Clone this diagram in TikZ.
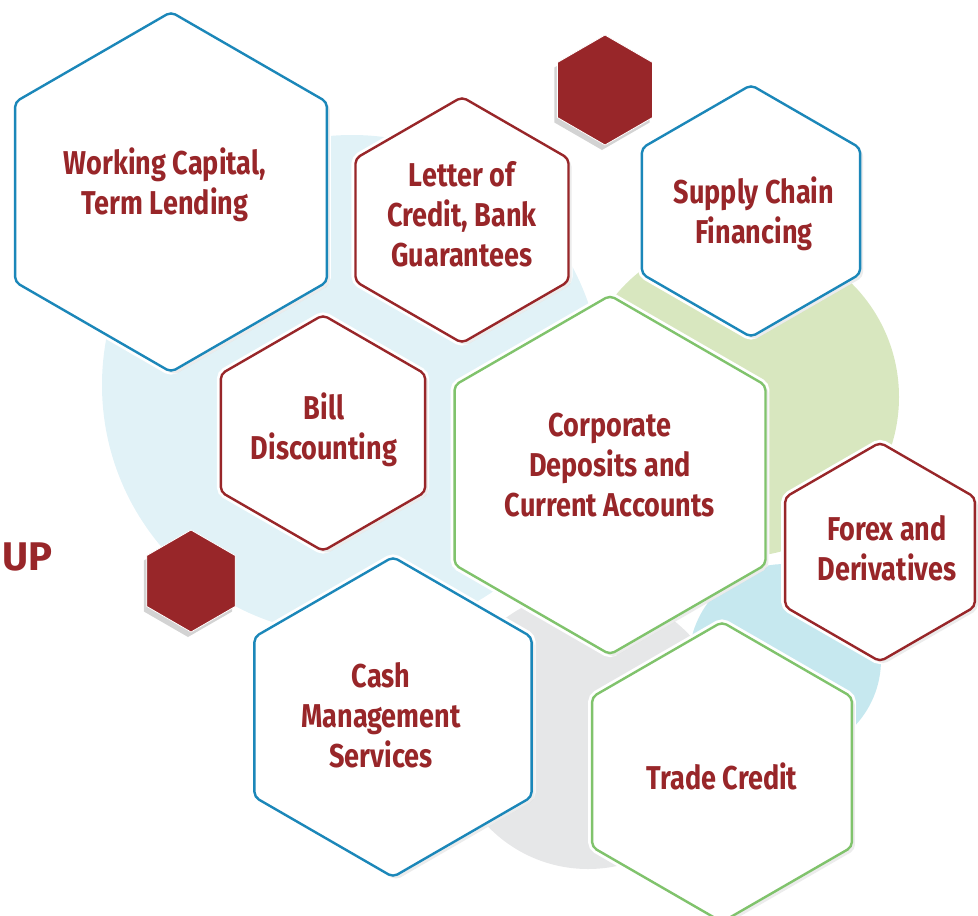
\documentclass[tikz,border=0pt]{standalone}
\usepackage{fontspec}
\setmainfont{Fira Sans}
\newfontfamily\hexfont{Fira Sans}[FakeStretch=0.82]
\usepackage{tikz}
\usetikzlibrary{shapes.geometric, shadows}

\definecolor{bankred}{HTML}{982629}
\definecolor{bankblue}{HTML}{1B87B9}
\definecolor{bankgreen}{HTML}{80C36C}
\definecolor{bgblue}{HTML}{E1F2F7}
\definecolor{bgcyan}{HTML}{C6E8EF}
\definecolor{bggreen}{HTML}{D8E7BF}
\definecolor{bggray}{HTML}{E6E7E8}

\tikzset{
    hexa/.style={regular polygon, regular polygon sides=6, regular polygon rotate=30,
        minimum size=#1, inner sep=0pt, rounded corners=5pt, line width=2.4pt,
        fill=white,
        preaction={draw=white, line width=8pt},
        drop shadow={shadow xshift=3pt, shadow yshift=-3pt, opacity=0.15}},
    hextext/.style={text=bankred, align=center, inner sep=0pt,
        font=\hexfont\bfseries\fontsize{33}{40}\selectfont},
    redhex/.style={regular polygon, regular polygon sides=6, regular polygon rotate=30,
        minimum size=#1, inner sep=0pt, fill=bankred, draw=white, line width=0.8pt,
        drop shadow={shadow xshift=-3pt, shadow yshift=-5pt, opacity=0.35}}
}

\begin{document}
\begin{tikzpicture}[x=1pt, y=-1pt]
    \path[use as bounding box, clip] (0,0) rectangle (978,916);

    % background circles
    \foreach \cx/\cy/\r/\co in {
        352/385/250/bgblue,
        739/397/160/bggreen,
        588/730/139/bggray,
        785/660/96/bgcyan}{
        \fill[\co] (\cx,\cy) circle (\r);
    }

    \node[anchor=west, text=bankred, inner sep=0pt, font=\bfseries\fontsize{40}{40}\selectfont]
        (grp) at (2,557) {UP};

    % filled hexagons
    \node[redhex=110pt] (dot1) at (605,90) {};
    \node[redhex=102pt] (dot2) at (191,581) {};

    % service hexagons
    \node[hexa=360pt, draw=bankblue]  (wc)  at (171,192) {};
    \node[hexa=246pt, draw=bankred]   (lc)  at (462,220) {};
    \node[hexa=252pt, draw=bankblue]  (scf) at (751,211) {};
    \node[hexa=236pt, draw=bankred]   (bd)  at (323,433) {};
    \node[hexa=359pt, draw=bankgreen] (cd)  at (610,475) {};
    \node[hexa=219pt, draw=bankred]   (fx)  at (880,552) {};
    \node[hexa=320pt, draw=bankblue]  (cms) at (393,717) {};
    \node[hexa=300pt, draw=bankgreen] (tc)  at (722,772) {};

    % labels
    \node[hextext] (wc-t)  at (165,185) {Working Capital,\\Term Lending};
    \node[hextext] (lc-t)  at (462,214) {Letter of\\Credit, Bank\\Guarantees};
    \node[hextext] (scf-t) at (754,214) {Supply Chain\\Financing};
    \node[hextext] (bd-t)  at (324,430) {Bill\\Discounting};
    \node[hextext] (cd-t)  at (610,465) {Corporate\\Deposits and\\Current Accounts};
    \node[hextext] (fx-t)  at (887,548) {Forex and\\Derivatives};
    \node[hextext] (cms-t) at (381,715) {Cash\\Management\\Services};
    \node[hextext] (tc-t)  at (722,776) {Trade Credit};
\end{tikzpicture}
\end{document}
